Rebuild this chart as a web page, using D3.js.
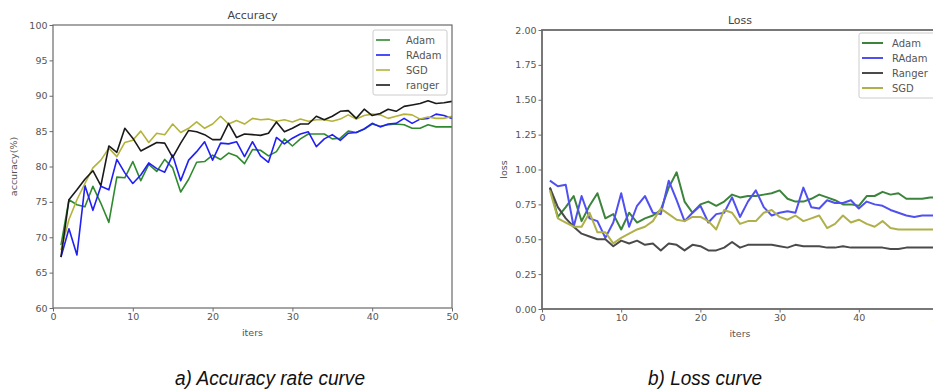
<!DOCTYPE html>
<html>
<head>
<meta charset="utf-8">
<script src="https://cdn.jsdelivr.net/npm/d3@7"></script>
<style>
  html, body { margin: 0; padding: 0; background: #fff; }
  svg { display: block; }
</style>
</head>
<body>
<div id="chart"></div>
<script>
// --- data
const iters = d3.range(1, 51);

const accAdam = [68.9, 75.3, 74.6, 74.3, 77.2, 74.8, 72.1, 78.5, 78.4, 80.7,
  78.0, 80.3, 79.3, 81.0, 79.8, 76.4, 78.2, 80.6, 80.7, 81.6,
  81.0, 81.9, 81.5, 80.4, 82.4, 82.3, 81.5, 82.1, 83.9, 82.9,
  83.9, 84.6, 84.6, 84.6, 83.9, 84.0, 85.0, 84.8, 85.3, 86.0,
  85.7, 85.9, 86.0, 85.9, 85.4, 85.4, 85.9, 85.6, 85.6, 85.6];
const accRAdam = [67.2, 71.2, 67.5, 77.3, 73.8, 77.2, 76.7, 81.0, 79.1, 77.6,
  78.8, 80.5, 79.7, 79.2, 81.6, 78.0, 80.9, 82.1, 83.5, 80.9,
  83.3, 83.2, 83.5, 81.4, 83.5, 81.5, 80.6, 84.1, 83.2, 84.0,
  84.6, 84.9, 82.8, 83.9, 84.5, 83.7, 84.7, 84.8, 85.3, 86.1,
  85.6, 86.0, 86.1, 86.8, 86.1, 86.7, 86.8, 87.4, 87.2, 86.8];
const accSGD = [68.2, 72.5, 75.3, 77.6, 79.8, 80.9, 82.6, 81.4, 83.4, 83.7,
  85.0, 83.4, 84.7, 84.5, 86.0, 84.8, 85.4, 86.3, 85.4, 86.0,
  87.1, 86.0, 86.5, 86.0, 86.8, 86.6, 86.7, 86.4, 86.6, 86.3,
  86.7, 86.4, 86.6, 86.6, 86.4, 86.7, 87.3, 86.7, 87.2, 87.4,
  87.3, 86.8, 87.1, 87.4, 87.3, 86.7, 87.0, 86.8, 86.8, 87.1];
const accRanger = [67.2, 75.3, 76.7, 78.2, 79.4, 77.3, 82.9, 82.0, 85.4, 84.0,
  82.2, 82.8, 83.4, 83.3, 81.3, 83.3, 85.1, 84.9, 84.5, 83.8,
  83.8, 86.1, 84.1, 84.6, 84.5, 84.4, 84.7, 86.3, 84.9, 85.4,
  86.0, 86.0, 87.1, 86.6, 87.1, 87.8, 87.9, 86.8, 88.1, 87.2,
  87.5, 88.1, 87.8, 88.5, 88.7, 88.9, 89.3, 88.9, 89.0, 89.2];

const lossAdam = [0.87, 0.66, 0.73, 0.81, 0.63, 0.74, 0.83, 0.65, 0.68, 0.57,
  0.69, 0.62, 0.65, 0.67, 0.71, 0.87, 0.98, 0.77, 0.69, 0.75,
  0.77, 0.74, 0.77, 0.82, 0.80, 0.81, 0.81, 0.82, 0.83, 0.85,
  0.79, 0.77, 0.77, 0.79, 0.82, 0.80, 0.78, 0.75, 0.75, 0.74,
  0.81, 0.81, 0.84, 0.82, 0.83, 0.79, 0.79, 0.79, 0.80, 0.80];
const lossRAdam = [0.92, 0.88, 0.89, 0.59, 0.81, 0.65, 0.63, 0.51, 0.62, 0.83,
  0.59, 0.74, 0.81, 0.69, 0.68, 0.92, 0.78, 0.63, 0.69, 0.74,
  0.62, 0.68, 0.69, 0.80, 0.66, 0.77, 0.85, 0.73, 0.67, 0.69,
  0.70, 0.69, 0.87, 0.73, 0.72, 0.78, 0.76, 0.76, 0.78, 0.72,
  0.77, 0.75, 0.74, 0.71, 0.69, 0.67, 0.66, 0.67, 0.67, 0.67];
const lossRanger = [0.87, 0.73, 0.65, 0.59, 0.54, 0.52, 0.50, 0.50, 0.45, 0.49,
  0.47, 0.49, 0.46, 0.47, 0.42, 0.47, 0.46, 0.42, 0.46, 0.45,
  0.42, 0.42, 0.44, 0.48, 0.44, 0.46, 0.46, 0.46, 0.46, 0.45,
  0.44, 0.46, 0.45, 0.45, 0.45, 0.44, 0.44, 0.45, 0.44, 0.44,
  0.44, 0.44, 0.44, 0.43, 0.43, 0.44, 0.44, 0.44, 0.44, 0.44];
const lossSGD = [0.85, 0.65, 0.62, 0.59, 0.59, 0.69, 0.55, 0.55, 0.47, 0.51,
  0.54, 0.57, 0.59, 0.63, 0.72, 0.68, 0.64, 0.63, 0.66, 0.66,
  0.63, 0.57, 0.71, 0.69, 0.61, 0.63, 0.63, 0.69, 0.71, 0.66,
  0.64, 0.67, 0.63, 0.65, 0.67, 0.58, 0.61, 0.67, 0.62, 0.64,
  0.61, 0.59, 0.63, 0.58, 0.57, 0.57, 0.57, 0.57, 0.57, 0.57];

const accTicks = [60, 65, 70, 75, 80, 85, 90, 95, 100];
const lossTicks = [0, 0.25, 0.5, 0.75, 1.0, 1.25, 1.5, 1.75, 2.0];
const iterTicks = [0, 10, 20, 30, 40, 50];

const accSeries = [
  { name: 'Adam', values: accAdam, color: '#2f8a2f' },
  { name: 'RAdam', values: accRAdam, color: '#2020f5' },
  { name: 'SGD', values: accSGD, color: '#b3b33a' },
  { name: 'ranger', values: accRanger, color: '#1a1a1a' }
];
const lossSeries = [
  { name: 'Adam', values: lossAdam, color: '#3c843c' },
  { name: 'RAdam', values: lossRAdam, color: '#5050f0' },
  { name: 'Ranger', values: lossRanger, color: '#4a4a4a' },
  { name: 'SGD', values: lossSGD, color: '#b0b04a' }
];

// --- svg
const width = 933;
const height = 390;
const font = 'DejaVu Sans, sans-serif';
const textColor = '#555';
const axisColor = '#6a6a6a';

const svg = d3.select('#chart')
  .append('svg')
  .attr('width', width)
  .attr('height', height);

function drawPanel(cfg) {
  const x = d3.scaleLinear().domain([0, 50]).range([cfg.left, cfg.right]);
  const y = d3.scaleLinear().domain(cfg.yDomain).range([cfg.bottom, cfg.top]);

  const g = svg.append('g');

  // lines
  const line = d3.line()
    .x((d, i) => x(iters[i]))
    .y(d => y(d));

  g.selectAll('.series')
    .data(cfg.series)
    .join('path')
      .attr('class', 'series')
      .attr('d', d => line(d.values))
      .attr('fill', 'none')
      .attr('stroke', d => d.color)
      .attr('stroke-width', cfg.lineWidth)
      .attr('stroke-linejoin', 'round');

  // frame
  g.append('rect')
    .attr('x', cfg.left)
    .attr('y', cfg.top)
    .attr('width', cfg.right - cfg.left)
    .attr('height', cfg.bottom - cfg.top)
    .attr('fill', 'none')
    .attr('stroke', axisColor)
    .attr('stroke-width', cfg.frameWidth);

  // axes
  const xAxis = g.append('g')
    .attr('transform', `translate(0,${cfg.bottom})`)
    .call(d3.axisBottom(x).tickValues(iterTicks).tickSize(3.5).tickPadding(2).tickFormat(d3.format('d')));
  const yAxis = g.append('g')
    .attr('transform', `translate(${cfg.left},0)`)
    .call(d3.axisLeft(y).tickValues(cfg.yTicks).tickSize(3.5).tickPadding(2).tickFormat(cfg.yFormat));

  [xAxis, yAxis].forEach(a => {
    a.select('.domain').remove();
    a.selectAll('line').attr('stroke', axisColor);
    a.selectAll('text')
      .attr('fill', textColor)
      .attr('font-family', font)
      .attr('font-size', 9.5);
  });

  // labels
  g.append('text')
    .attr('x', (cfg.left + cfg.right) / 2)
    .attr('y', cfg.top - 6)
    .attr('text-anchor', 'middle')
    .attr('fill', '#444')
    .attr('font-family', font)
    .attr('font-size', 11)
    .text(cfg.title);

  g.append('text')
    .attr('x', (cfg.left + cfg.right) / 2)
    .attr('y', cfg.bottom + 28)
    .attr('text-anchor', 'middle')
    .attr('fill', textColor)
    .attr('font-family', font)
    .attr('font-size', 9.5)
    .text('iters');

  g.append('text')
    .attr('transform', `translate(${cfg.yLabelX},${(cfg.top + cfg.bottom) / 2}) rotate(-90)`)
    .attr('text-anchor', 'middle')
    .attr('fill', textColor)
    .attr('font-family', font)
    .attr('font-size', 9.5)
    .text(cfg.yLabel);

  // legend
  const lg = g.append('g')
    .attr('transform', `translate(${cfg.legendX},${cfg.legendY})`);
  lg.append('rect')
    .attr('width', cfg.legendW)
    .attr('height', 65)
    .attr('rx', 2)
    .attr('fill', '#fff')
    .attr('stroke', '#ccc');
  const item = lg.selectAll('.item')
    .data(cfg.series)
    .join('g')
      .attr('class', 'item')
      .attr('transform', (d, i) => `translate(0,${10 + i * 15})`);
  item.append('line')
    .attr('x1', 3).attr('x2', 3 + cfg.legendLine)
    .attr('stroke', d => d.color)
    .attr('stroke-width', cfg.lineWidth);
  item.append('text')
    .attr('x', cfg.legendText)
    .attr('dy', '0.35em')
    .attr('fill', textColor)
    .attr('font-family', font)
    .attr('font-size', 10)
    .text(d => d.name);
}

drawPanel({
  left: 53, right: 452, top: 25, bottom: 308,
  yDomain: [60, 100], yTicks: accTicks, yFormat: d3.format('d'),
  series: accSeries, title: 'Accuracy', yLabel: 'accuracy(%)', yLabelX: 17,
  lineWidth: 1.6, frameWidth: 1.2,
  legendX: 373, legendY: 30, legendW: 74, legendLine: 14, legendText: 33
});

drawPanel({
  left: 542, right: 938, top: 30, bottom: 309,
  yDomain: [0, 2], yTicks: lossTicks, yFormat: d3.format('.2f'),
  series: lossSeries, title: 'Loss', yLabel: 'loss', yLabelX: 507,
  lineWidth: 2, frameWidth: 1.8,
  legendX: 859, legendY: 33, legendW: 78, legendLine: 21, legendText: 33
});

// --- captions
const captions = [
  { text: 'a) Accuracy rate curve', x: 270, w: 190 },
  { text: 'b) Loss curve', x: 705, w: 114 }
];
svg.selectAll('.caption')
  .data(captions)
  .join('text')
    .attr('class', 'caption')
    .attr('x', d => d.x - d.w / 2)
    .attr('y', 385)
    .attr('textLength', d => d.w)
    .attr('lengthAdjust', 'spacingAndGlyphs')
    .attr('fill', '#111')
    .attr('font-family', 'Liberation Sans Narrow, Liberation Sans, Arial, sans-serif')
    .attr('font-style', 'italic')
    .attr('font-size', 20)
    .text(d => d.text);
</script>
</body>
</html>
